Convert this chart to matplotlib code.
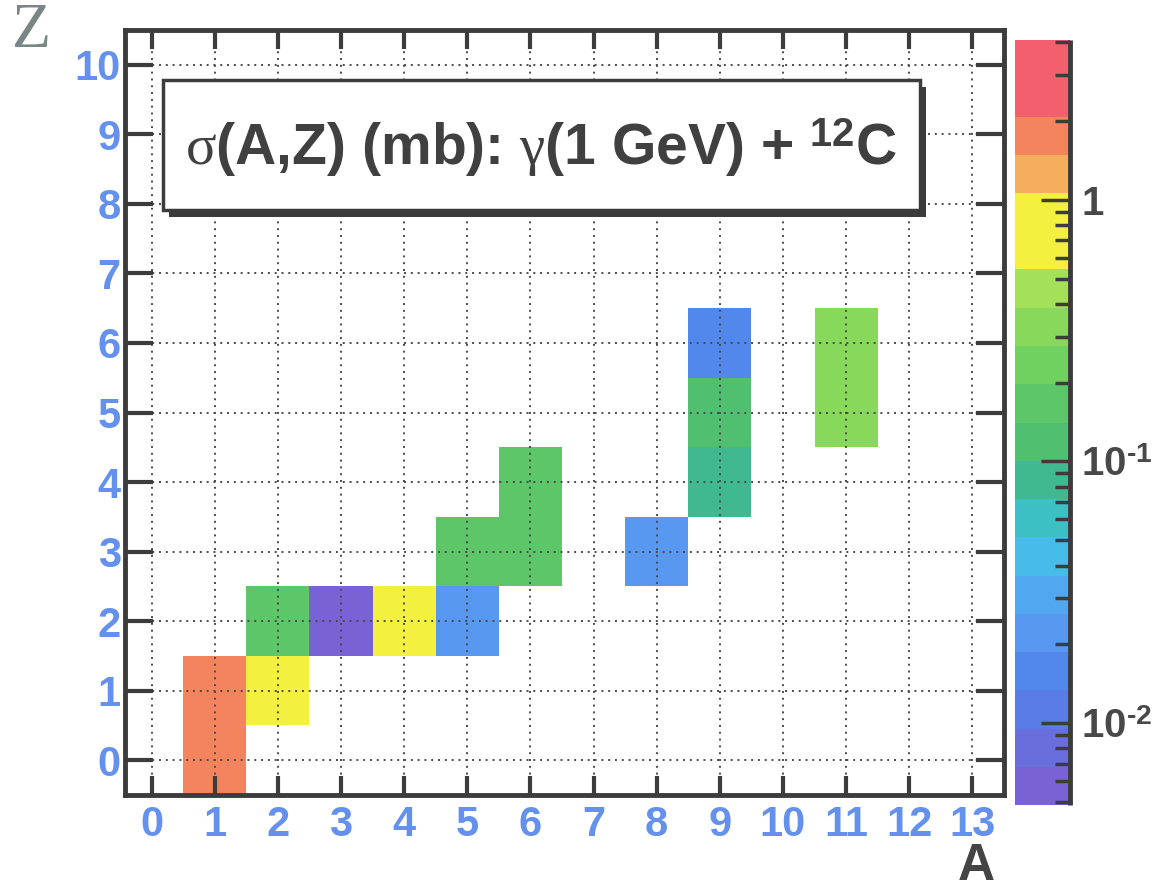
import numpy as np
import matplotlib
matplotlib.use("Agg")
import matplotlib.pyplot as plt
from matplotlib.colors import LogNorm, ListedColormap
from matplotlib.patches import Rectangle
from matplotlib.ticker import LogLocator, NullFormatter, FixedLocator


# fragment (A, Z) cells and cross sections in mb
A = [1, 1, 2, 2, 3, 4, 5, 5, 6, 6, 8, 9, 9, 9, 11, 11]
Z = [0, 1, 1, 2, 2, 2, 2, 3, 3, 4, 3, 4, 5, 6, 5, 6]
sigma_mb = [1.8, 1.8, 0.8, 0.17, 0.0057, 0.75, 0.022, 0.17, 0.17, 0.18,
            0.02, 0.085, 0.12, 0.016, 0.33, 0.33]

a_ticks = list(range(0, 14))
z_ticks = list(range(0, 11))
cbar_ticks = [0.01, 0.1, 1]
cbar_labels = [r"10$^{\mathbf{\text{-}2}}$", r"10$^{\mathbf{\text{-}1}}$", "1"]

# 20 palette bands, bottom -> top (as on the scanned colour scale)
palette = ["#7862d4", "#6a6edc", "#5a7ce6", "#5288ec", "#5898f0",
           "#52a8f0", "#48bce8", "#3cc0c4", "#40b890", "#50c070",
           "#5cc668", "#70d060", "#88d85c", "#a4e058", "#f4f040",
           "#f4f040", "#f4ae5c", "#f4845e", "#f2606e", "#f2606e"]

plt.rcParams["font.family"] = ["Liberation Sans", "DejaVu Sans"]
plt.rcParams["mathtext.fontset"] = "custom"
plt.rcParams["mathtext.rm"] = "Liberation Sans:bold"
plt.rcParams["mathtext.bf"] = "Liberation Sans:bold"
plt.rcParams["mathtext.it"] = "Liberation Serif"

blue = "#6490ee"
dark = "#3c3c3c"
W, H = 1157, 892

grid = np.full((len(z_ticks), len(a_ticks)), np.nan)
for a, z, s in zip(A, Z, sigma_mb):
    grid[z, a] = s
cells = np.ma.masked_invalid(grid)

cmap = ListedColormap(palette)
norm = LogNorm(vmin=4.86e-3, vmax=4.08)

fig = plt.figure(figsize=(W / 100, H / 100), dpi=100)
ax = fig.add_axes([125 / W, 1 - 795 / H, (1004 - 125) / W, (795 - 30) / H])

mesh = ax.pcolormesh(np.arange(-0.5, 14.0), np.arange(-0.5, 11.0), cells,
                     cmap=cmap, norm=norm)
ax.set_xlim(-0.42, 13.5)
ax.set_ylim(-0.5, 10.5)

ax.set_xticks(a_ticks)
ax.set_yticks(z_ticks)
ax.grid(True, ls=(0, (1, 2.5)), color="#4a4a4a", lw=1.4)
ax.set_axisbelow(False)

for sp in ax.spines.values():
    sp.set_linewidth(3.5)
    sp.set_color(dark)

ax.tick_params(axis="both", direction="in", top=True, right=True,
               width=3, color=dark, labelcolor=blue, labelsize=30)
ax.tick_params(axis="x", length=14, pad=7)
ax.tick_params(axis="y", length=20, pad=3)
for lbl in ax.get_xticklabels() + ax.get_yticklabels():
    lbl.set_fontweight("bold")

# colour scale
cax = fig.add_axes([1015 / W, 1 - 805 / H, (1070 - 1015) / W, (805 - 40) / H])
cbar = fig.colorbar(mesh, cax=cax)
cbar.outline.set_visible(False)
cax.plot([1, 1], [0, 1], transform=cax.transAxes, color=dark, lw=3.5,
         clip_on=False, solid_capstyle="butt")
cax.yaxis.set_ticks_position("right")
cax.yaxis.set_major_locator(FixedLocator(cbar_ticks))
cax.yaxis.set_ticklabels(cbar_labels)
cax.yaxis.set_minor_locator(LogLocator(base=10, subs=np.arange(2, 10)))
cax.yaxis.set_minor_formatter(NullFormatter())
cax.tick_params(which="major", direction="in", length=21, width=2.5,
                color=dark, labelcolor="#484848", labelsize=29, pad=8)
cax.tick_params(which="minor", direction="in", length=11, width=2.5, color=dark)
for lbl in cax.get_yticklabels():
    lbl.set_fontweight("bold")

# title box with shadow
bx0, by0, bx1, by1 = 163, 80, 920, 210
shadow = Rectangle(((bx0 + 6) / W, 1 - (by1 + 7) / H), (bx1 - bx0) / W,
                   (by1 - by0) / H, transform=fig.transFigure,
                   facecolor=dark, edgecolor="none", zorder=5)
box = Rectangle((bx0 / W, 1 - by1 / H), (bx1 - bx0) / W, (by1 - by0) / H,
                transform=fig.transFigure, facecolor="white",
                edgecolor=dark, lw=2.5, zorder=6)
fig.patches.extend([shadow, box])
fig.text(541 / W, 1 - 148 / H,
         r"$\sigma$(A,Z) (mb): $\gamma$(1 GeV) + $^{12}$C",
         ha="center", va="center", fontsize=41, fontweight="bold",
         color="#404040", zorder=7)

# axis labels
fig.text(31 / W, 1 - 32 / H, "Z", family="Liberation Serif", fontsize=46,
         color="#7a8686", ha="center", va="center")
fig.text(976 / W, 1 / H, "A", fontsize=37, fontweight="bold",
         color="#444444", ha="center", va="bottom")

fig.savefig("out.png", dpi=100)
